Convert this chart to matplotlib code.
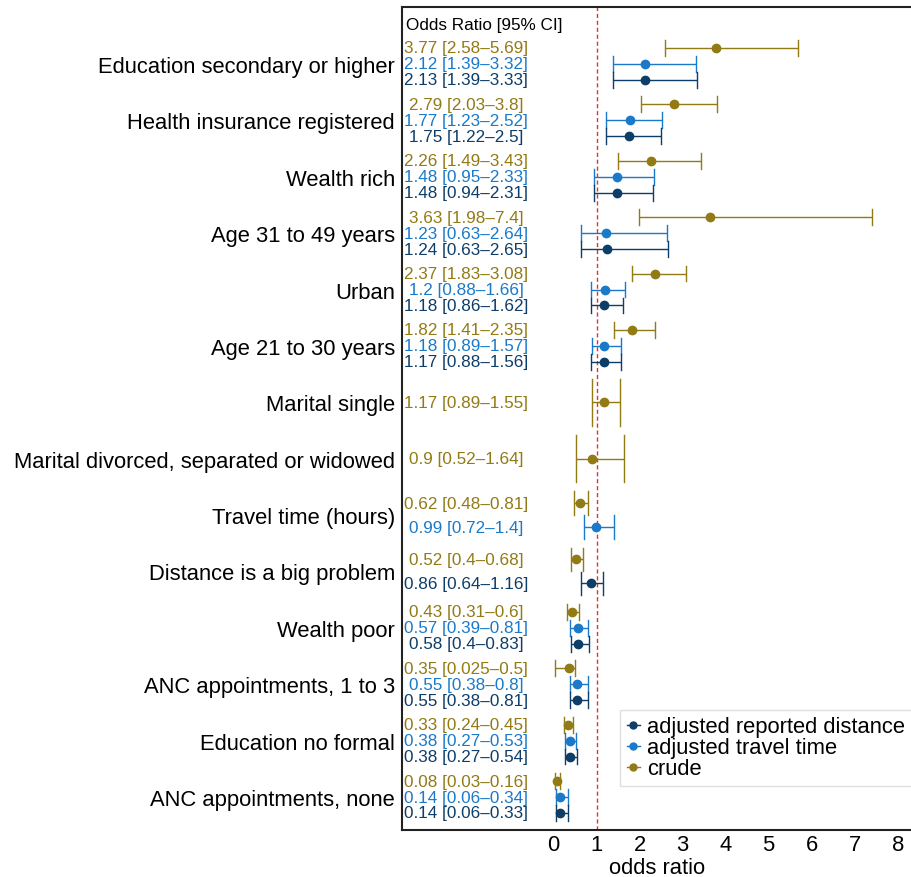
import matplotlib.pyplot as plt
from matplotlib.lines import Line2D

plt.rcParams['font.family'] = ['Liberation Sans', 'DejaVu Sans']

# Predictors, top to bottom
predictors = [
    "Education secondary or higher",
    "Health insurance registered",
    "Wealth rich",
    "Age 31 to 49 years",
    "Urban",
    "Age 21 to 30 years",
    "Marital single",
    "Marital divorced, separated or widowed",
    "Travel time (hours)",
    "Distance is a big problem",
    "Wealth poor",
    "ANC appointments, 1 to 3",
    "Education no formal",
    "ANC appointments, none",
]

# Odds ratios and 95% CI per model (None = not in model)
crude_or = [3.77, 2.79, 2.26, 3.63, 2.37, 1.82, 1.17, 0.9, 0.62, 0.52, 0.43, 0.35, 0.33, 0.08]
crude_lo = [2.58, 2.03, 1.49, 1.98, 1.83, 1.41, 0.89, 0.52, 0.48, 0.4, 0.31, 0.025, 0.24, 0.03]
crude_hi = [5.69, 3.8, 3.43, 7.4, 3.08, 2.35, 1.55, 1.64, 0.81, 0.68, 0.6, 0.5, 0.45, 0.16]

travel_or = [2.12, 1.77, 1.48, 1.23, 1.2, 1.18, None, None, 0.99, None, 0.57, 0.55, 0.38, 0.14]
travel_lo = [1.39, 1.23, 0.95, 0.63, 0.88, 0.89, None, None, 0.72, None, 0.39, 0.38, 0.27, 0.06]
travel_hi = [3.32, 2.52, 2.33, 2.64, 1.66, 1.57, None, None, 1.4, None, 0.81, 0.8, 0.53, 0.34]

dist_or = [2.13, 1.75, 1.48, 1.24, 1.18, 1.17, None, None, None, 0.86, 0.58, 0.55, 0.38, 0.14]
dist_lo = [1.39, 1.22, 0.94, 0.63, 0.86, 0.88, None, None, None, 0.64, 0.4, 0.38, 0.27, 0.06]
dist_hi = [3.33, 2.5, 2.31, 2.65, 1.62, 1.56, None, None, None, 1.16, 0.83, 0.81, 0.54, 0.33]

models = [
    ("crude", crude_or, crude_lo, crude_hi, "#927A14"),
    ("adjusted travel time", travel_or, travel_lo, travel_hi, "#1A7AC9"),
    ("adjusted reported distance", dist_or, dist_lo, dist_hi, "#0D3D69"),
]

fig = plt.figure(figsize=(9.12, 8.78), dpi=100)
ax = fig.add_axes([402 / 912, 1 - 831 / 878, 1 - 402 / 912, (831 - 8) / 878])

n_groups = len(predictors)
group_y = [n_groups - i for i in range(n_groups)]
text_x = -2.03

for i, name in enumerate(predictors):
    present = [m for m in models if m[1][i] is not None]
    n = len(present)
    step = 0.85 / n
    cap = 0.42 / n
    for j, (label, est, lo, hi, col) in enumerate(present):
        y = group_y[i] + ((n - 1) / 2 - j) * step
        ax.plot([lo[i], hi[i]], [y, y], color=col, lw=1.0, solid_capstyle='butt')
        ax.plot([lo[i], lo[i]], [y - cap, y + cap], color=col, lw=1.0)
        ax.plot([hi[i], hi[i]], [y - cap, y + cap], color=col, lw=1.0)
        ax.plot(est[i], y, 'o', color=col, ms=6, zorder=3)
        ax.text(text_x, y, f"{est[i]:g} [{lo[i]:g}\u2013{hi[i]:g}]", color=col,
                fontsize=12.3, ha='center', va='center')

ax.axvline(1, color='#E8302A', lw=1.0, ls=(0, (3, 2)), zorder=1)
ax.text(-3.42, n_groups + 0.7, "Odds Ratio [95% CI]", fontsize=12.3, ha='left', va='center')

ax.set_xlim(-3.52, 8.33)
ax.set_ylim(1 - 0.585, n_groups + 1.01)
ax.set_xticks(range(0, 9))
ax.set_yticks(group_y)
ax.set_yticklabels(predictors, fontsize=15.8)
ax.tick_params(axis='both', length=0, labelsize=15.8)
ax.tick_params(axis='x', pad=3)
ax.tick_params(axis='y', pad=5)
ax.set_xlabel("odds ratio", fontsize=15.8, labelpad=1)

for side in ['left', 'top', 'bottom']:
    ax.spines[side].set_linewidth(1.5)
    ax.spines[side].set_color('#222222')
ax.spines['right'].set_visible(False)

handles = []
for label, est, lo, hi, col in models[::-1]:
    handles.append(Line2D([], [], color=col, marker='o', ms=5, lw=1.0, label=label))
leg = ax.legend(handles=handles, loc='lower right', bbox_to_anchor=(1.0, 1 - 787 / 878),
                bbox_transform=fig.transFigure, fontsize=15.8, frameon=True, fancybox=False,
                handlelength=0.6, handletextpad=0.35, labelspacing=0.0, borderpad=0.3,
                borderaxespad=0.0)
leg.get_frame().set_edgecolor('#D8D8D8')
leg.get_frame().set_linewidth(1.0)

fig.savefig("out.png", dpi=100)
